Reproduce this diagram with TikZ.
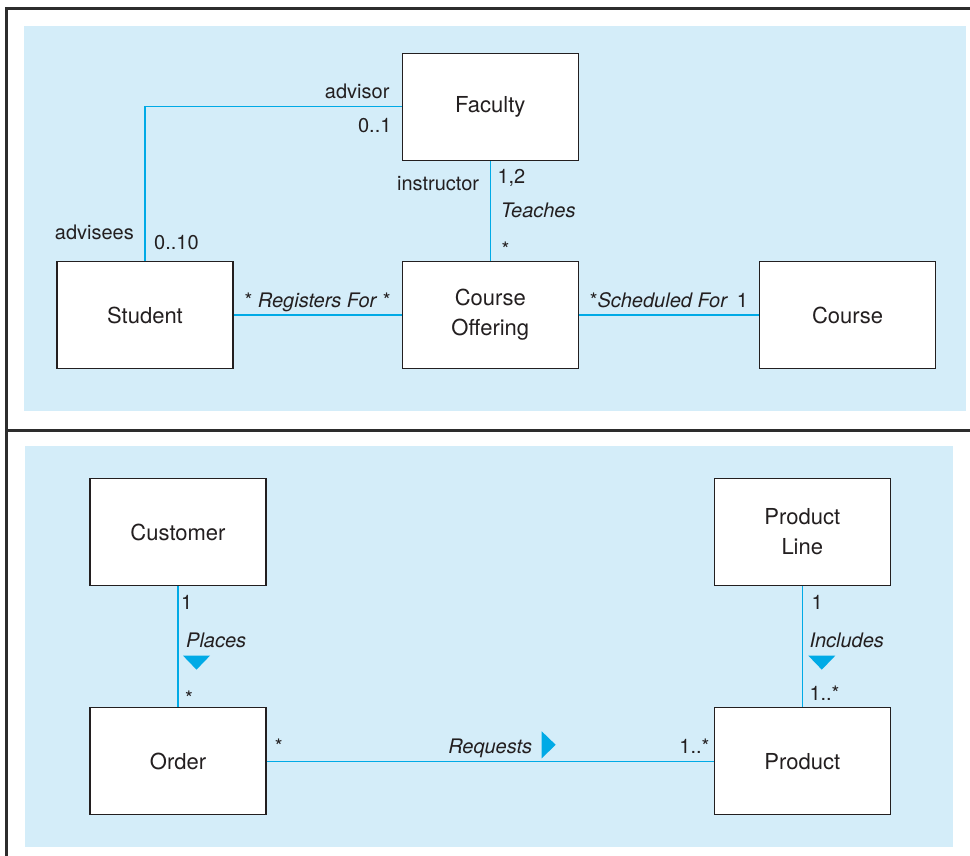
\documentclass[tikz,border=0pt]{standalone}
\usepackage{fontspec}
\setmainfont{TeX Gyre Heros}
\usetikzlibrary{positioning, calc}

\definecolor{panelblue}{RGB}{212,237,249}
\definecolor{linkblue}{RGB}{0,170,230}
\definecolor{inkgray}{RGB}{35,31,32}
\definecolor{framegray}{RGB}{45,45,45}

\begin{document}
\begin{tikzpicture}[x=1pt, y=1pt,
    entity/.style={draw=inkgray, fill=white, line width=1.3pt, minimum width=176pt, minimum height=107pt,
        inner sep=0pt, align=center, text=inkgray, font=\fontsize{22}{30}\selectfont},
    assoc/.style={draw=linkblue, line width=1.3pt},
    lbl/.style={inner sep=0pt, text=inkgray, font=\fontsize{20}{24}\selectfont},
    role/.style={lbl, font=\fontsize{20}{24}\selectfont\itshape}]
    \useasboundingbox (0,0) rectangle (970,-856);

    % panels and frame
    \fill[panelblue] (24,-26) rectangle (966,-411);
    \fill[panelblue] (25,-446) rectangle (953,-847);
    \draw[framegray, line width=3pt] (975,-9) -- (6,-9) -- (6,-862);
    \draw[framegray, line width=3pt] (6,-430) -- (975,-430);

    % upper diagram
    \node[entity] (student) at (145,-315) {Student};
    \node[entity, right=168pt of student] (offering) {Course\\Offering};
    \node[entity, right=180pt of offering] (course) {Course};
    \node[entity, above=100pt of offering] (faculty) {Faculty};

    \draw[assoc] (student.north) |- (faculty.west);
    \draw[assoc] (faculty) -- node[role, right=10pt] (teaches) {Teaches} (offering);
    \draw[assoc] (student) -- node[lbl, anchor=base, yshift=8pt] (registers) {* \textit{Registers For} *} (offering);
    \draw[assoc] (offering) -- node[lbl, anchor=base, yshift=8pt] (scheduled) {*\textit{Scheduled For} \,1} (course);

    \node[lbl, anchor=base east] (advisor) at ($(faculty.west)+(-12,8.5)$) {advisor};
    \node[lbl, anchor=base east] (advisormult) at ($(faculty.west)+(-10,-25.5)$) {0..1};
    \node[lbl, anchor=base east] (advisees) at ($(student.north)+(-11,21.5)$) {advisees};
    \node[lbl, anchor=base west] (adviseesmult) at ($(student.north)+(9,11.5)$) {0..10};
    \node[lbl, anchor=base east] (instructor) at ($(faculty.south)+(-11,-29.5)$) {instructor};
    \node[lbl, anchor=base west] (instructormult) at ($(faculty.south)+(7,-22.5)$) {1,2};
    \node[lbl, anchor=base west] (taughtmult) at ($(offering.north)+(11,4.5)$) {*};

    % lower diagram
    \node[entity] (customer) at (178,-532) {Customer};
    \node[entity, below=121pt of customer] (order) {Order};
    \node[entity, right=447pt of order] (product) {Product};
    \node[entity, above=121pt of product] (line) {Product\\Line};

    \draw[assoc] (customer) -- (order);
    \draw[assoc] (line) -- (product);
    \draw[assoc] (order) -- node[role, anchor=base, yshift=8pt] (requests) {Requests} (product);

    \node[lbl, anchor=base west] (customermult) at ($(customer.south)+(3,-23.5)$) {1};
    \node[role, anchor=base west] (places) at ($(customer.south)+(8,-61.5)$) {Places};
    \node[lbl, anchor=base west] (placedmult) at ($(order.north)+(7,2)$) {*};
    \node[lbl, anchor=base west] (linemult) at ($(line.south)+(9,-23.5)$) {1};
    \node[role, anchor=base west] (includes) at ($(line.south)+(7,-61.5)$) {Includes};
    \node[lbl, anchor=base west] (includedmult) at ($(product.north)+(7,6.5)$) {1..*};
    \node[lbl, anchor=base west] (ordermult) at ($(order.east)+(8,8)$) {*};
    \node[lbl, anchor=base east] (productmult) at ($(product.west)+(-4,8)$) {1..*};

    % reading direction
    \fill[linkblue] ($(places.base west)+(-3,-8)$) -- ($(places.base west)+(24,-8)$) -- ($(places.base west)+(10.5,-22)$) -- cycle;
    \fill[linkblue] ($(includes.base west)+(-1,-8)$) -- ($(includes.base west)+(26,-8)$) -- ($(includes.base west)+(12.5,-22)$) -- cycle;
    \fill[linkblue] ($(requests.base east)+(9,22)$) -- ($(requests.base east)+(9,-5)$) -- ($(requests.base east)+(23,8.5)$) -- cycle;
\end{tikzpicture}
\end{document}
